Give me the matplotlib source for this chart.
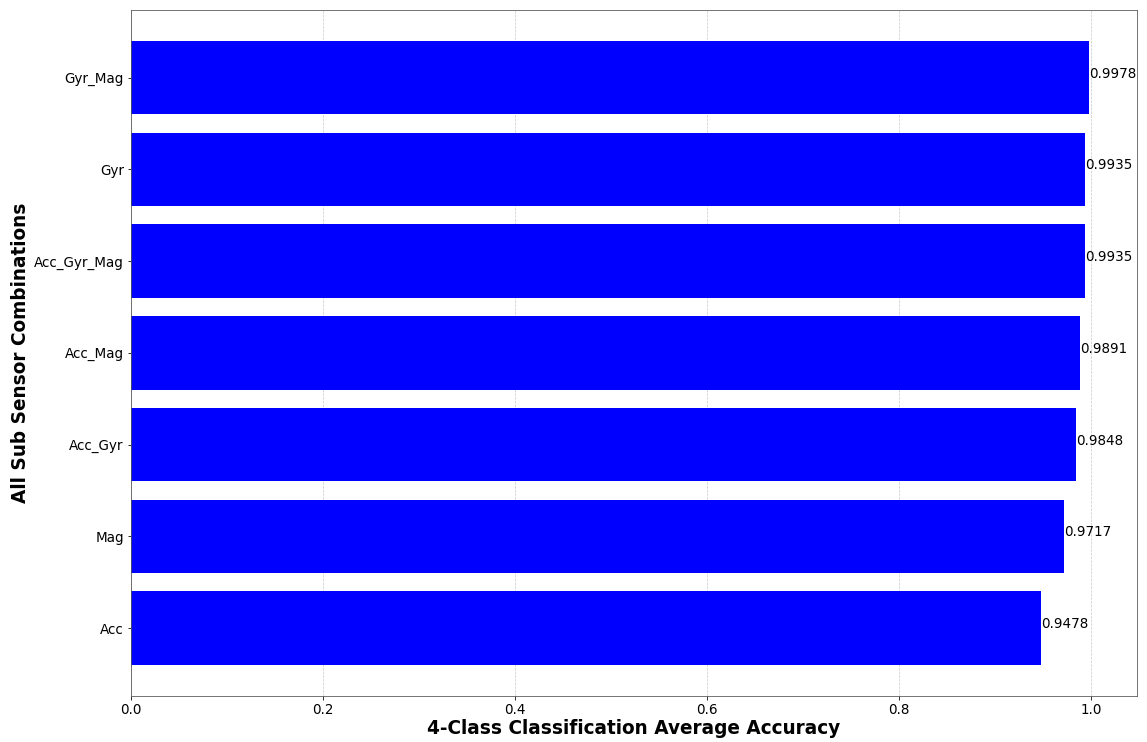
import matplotlib.pyplot as plt

# 各传感器组合的4分类平均准确率
combos = ['Acc', 'Mag', 'Acc_Gyr', 'Acc_Mag', 'Acc_Gyr_Mag', 'Gyr', 'Gyr_Mag']
accuracy = [0.9478, 0.9717, 0.9848, 0.9891, 0.9935, 0.9935, 0.9978]

fig, ax = plt.subplots(figsize=(1147 / 72, 742 / 72), dpi=72)
ax.barh(combos, accuracy, color='blue', height=0.8)
# 在每个条形末端标上数值
for i, v in enumerate(accuracy):
    ax.text(v, i, str(v), fontsize=13.5)

ax.set_axisbelow(True)
ax.grid(axis='x', linestyle='--', color='#c8c8c8', linewidth=0.7)
ax.tick_params(labelsize=13.5)
ax.set_xlabel('4-Class Classification Average Accuracy', fontsize=18.5, fontweight='bold', labelpad=2)
ax.set_ylabel('All Sub Sensor Combinations', fontsize=18.5, fontweight='bold')
for s in ax.spines.values():
    s.set_color('#555555')
plt.subplots_adjust(left=0.114, right=0.991, bottom=0.062, top=0.987)
plt.savefig('out.png')
